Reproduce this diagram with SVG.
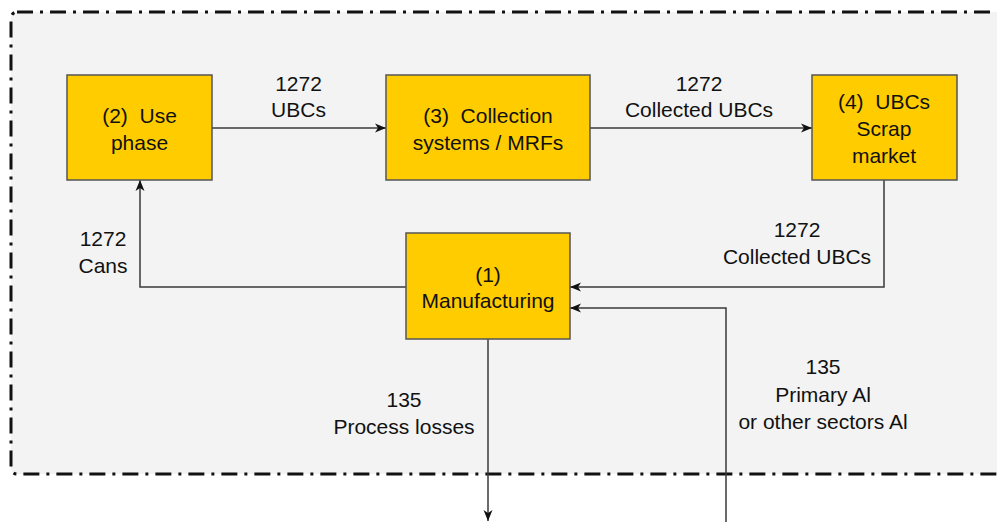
<svg xmlns="http://www.w3.org/2000/svg" width="997" height="522" viewBox="0 0 997 522">
  <style>
    .node rect { fill: #ffcc00; stroke: #555; stroke-width: 1.5; }
    text { font-family: "Liberation Sans", Arial, sans-serif; font-size: 21px; fill: #111; text-anchor: middle; }
    .conn path { fill: none; stroke: #3a3a3a; stroke-width: 1.5; }
  </style>
  <defs>
    <marker id="arrow" markerUnits="userSpaceOnUse" markerWidth="12" markerHeight="12" viewBox="0 0 12 12" refX="11" refY="6" orient="auto">
      <path d="M0,1.5 L11,6 L0,10.5 L3,6 Z" fill="#111"/>
    </marker>
  </defs>
  <rect x="0" y="0" width="997" height="522" fill="#ffffff"/>
  <rect id="boundary" x="11" y="12" width="1010" height="462" rx="6" fill="#f3f3f3" stroke="#111" stroke-width="3" stroke-dasharray="16 7 3 7"/>

  <g class="conn" id="connectors">
    <path d="M212,128 H386" marker-end="url(#arrow)"/>
    <path d="M590,128 H812" marker-end="url(#arrow)"/>
    <path d="M884,180 V287 H570" marker-end="url(#arrow)"/>
    <path d="M726,522 V308 H570" marker-end="url(#arrow)"/>
    <path d="M406,287 H140 V180" marker-end="url(#arrow)"/>
    <path d="M488,339 V521" marker-end="url(#arrow)"/>
  </g>

  <g class="node" id="node-use-phase">
    <rect x="67" y="75" width="145" height="105"/>
    <text x="139.5" y="123" xml:space="preserve">(2)  Use</text>
    <text x="139.5" y="150">phase</text>
  </g>
  <g class="node" id="node-collection">
    <rect x="386" y="75" width="204" height="105"/>
    <text x="488" y="123" xml:space="preserve">(3)  Collection</text>
    <text x="488" y="150">systems / MRFs</text>
  </g>
  <g class="node" id="node-scrap-market">
    <rect x="812" y="75" width="145" height="105"/>
    <text x="884" y="109" xml:space="preserve">(4)  UBCs</text>
    <text x="884" y="136">Scrap</text>
    <text x="884" y="163">market</text>
  </g>
  <g class="node" id="node-manufacturing">
    <rect x="406" y="233" width="164" height="106"/>
    <text x="488" y="282">(1)</text>
    <text x="488" y="308">Manufacturing</text>
  </g>

  <g id="labels">
    <text x="298.5" y="90.5">1272</text>
    <text x="298.5" y="117">UBCs</text>
    <text x="699" y="90.5">1272</text>
    <text x="699" y="117">Collected UBCs</text>
    <text x="797" y="236.5">1272</text>
    <text x="797" y="263.5">Collected UBCs</text>
    <text x="103" y="245.5">1272</text>
    <text x="103" y="272.5">Cans</text>
    <text x="404" y="406.5">135</text>
    <text x="404" y="433.5">Process losses</text>
    <text x="823" y="373.5">135</text>
    <text x="823" y="401.5">Primary Al</text>
    <text x="823" y="428.5">or other sectors Al</text>
  </g>
</svg>
